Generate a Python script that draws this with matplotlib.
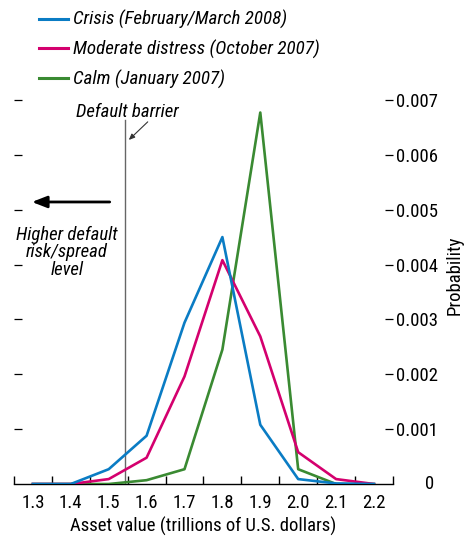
import matplotlib.pyplot as plt
from matplotlib.lines import Line2D

plt.rcParams['font.family'] = ['Roboto Condensed', 'DejaVu Sans']

asset = [1.3, 1.4, 1.5, 1.6, 1.7, 1.8, 1.9, 2.0, 2.1, 2.2]
crisis = [0.0, 0.0, 0.00027, 0.00088, 0.00294, 0.00450, 0.00108, 0.00009, 0.00001, 0.0]
moderate = [0.0, 0.0, 0.00009, 0.00048, 0.00196, 0.00408, 0.00269, 0.00058, 0.00009, 0.0]
calm = [0.0, 0.0, 0.0, 0.00007, 0.00027, 0.00245, 0.00677, 0.00027, 0.0, 0.0]
labels = ['Crisis (February/March 2008)', 'Moderate distress (October 2007)', 'Calm (January 2007)']
colors = ['#0a7cc4', '#d4006e', '#3a8a32']
barrier = 1.543
fs = 13.5

fig = plt.figure(figsize=(4.65, 5.39), dpi=100)
ax = fig.add_axes([0.030, 0.102, 0.815, 0.733])

ax.plot(asset, calm, color=colors[2], lw=1.9, zorder=3)
ax.plot(asset, moderate, color=colors[1], lw=1.9, zorder=4)
ax.plot(asset, crisis, color=colors[0], lw=1.9, zorder=5)
ax.axvline(barrier, ymin=0, ymax=0.921, color='#666666', lw=1.0, zorder=2)

ax.set_xlim(1.25, 2.25)
ax.set_ylim(0, 0.0072)
for s in ['top', 'left', 'right']:
    ax.spines[s].set_visible(False)
ax.spines['bottom'].set_linewidth(1.0)

ax.set_xticks([1.25 + 0.1 * i for i in range(11)])
ax.set_xticklabels([])
ax.tick_params(axis='x', which='major', direction='in', length=6, width=1.0)
ax.set_xticks(asset, minor=True)
ax.set_xticklabels(['%.1f' % v for v in asset], minor=True)
ax.tick_params(axis='x', which='minor', length=0, labelsize=fs, pad=7)

ax.yaxis.tick_right()
ax.set_yticks([0.001 * i for i in range(1, 8)])
ax.set_yticklabels(['0.00%d' % i for i in range(1, 8)])
ax.tick_params(axis='y', left=True, right=True, direction='in', length=6,
               width=0.9, labelsize=fs, pad=2)
ax.text(1.097, 0.0, '0', transform=ax.get_yaxis_transform(), ha='center', va='center',
        fontsize=fs)

ax.set_xlabel('Asset value (trillions of U.S. dollars)', fontsize=fs, labelpad=4)
fig.text(0.977, 0.49, 'Probability', rotation=90, ha='center', va='center', fontsize=fs)

ax.text(barrier + 0.005, 0.00678, 'Default barrier', style='italic', fontsize=fs,
        ha='center', va='center')
ax.annotate('', xy=(barrier + 0.01, 0.00627), xytext=(barrier + 0.06, 0.0066),
            arrowprops=dict(arrowstyle='-|>,head_length=0.35,head_width=0.15',
                            color='#333333', lw=0.8, shrinkA=0, shrinkB=0))

ax.annotate('', xy=(1.29, 0.00514), xytext=(1.51, 0.00514),
            arrowprops=dict(arrowstyle='-|>,head_length=0.9,head_width=0.35',
                            color='black', lw=2.0))
ax.text(1.39, 0.00422, 'Higher default\nrisk/spread\nlevel', style='italic', fontsize=fs,
        ha='center', va='center', linespacing=0.98)

handles = [Line2D([], [], color=c, lw=2.2) for c in colors]
fig.legend(handles, labels, loc='upper left', bbox_to_anchor=(0.068, 0.995), frameon=False,
           prop={'style': 'italic', 'size': 13.7}, handlelength=1.5, handletextpad=0.25,
           labelspacing=0.55, borderaxespad=0)

fig.savefig('out.png', dpi=100)
